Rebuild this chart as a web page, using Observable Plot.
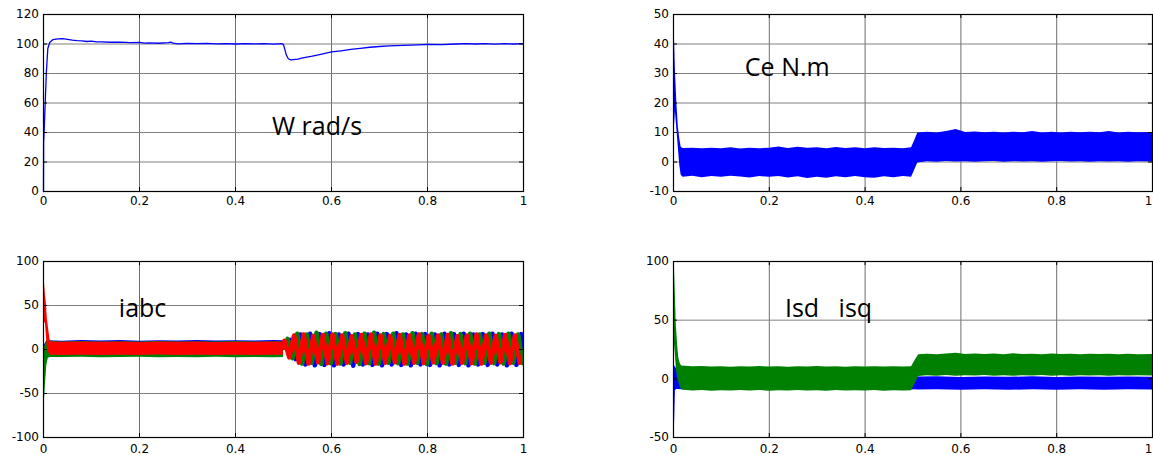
<!DOCTYPE html>
<html><head><meta charset="utf-8">
<script src="https://cdn.jsdelivr.net/npm/d3@7"></script>
<script src="https://cdn.jsdelivr.net/npm/@observablehq/plot@0.6"></script>
<style>
html,body{margin:0;padding:0;background:#fff;overflow:hidden}
#wrap{position:relative;width:1153px;height:455px;overflow:hidden}
#wrap svg{position:absolute;max-width:none;overflow:visible}
#wrap text{white-space:pre}
</style></head><body><div id="wrap"></div>
<script>
// ---------- shared ----------
const xTicks = [0, 0.2, 0.4, 0.6, 0.8, 1];

// ---------- panel 1 : W rad/s  [t, value] ----------
const wTicks = [0, 20, 40, 60, 80, 100, 120];
const wSpeed = [[0,0],[0.0003,34],[0.001,38],[0.004,64],[0.006,81],[0.009,97],[0.013,101],[0.02,103],[0.03,103.5],[0.04,103.6],[0.05,103.1],
 [0.06,102.6],[0.07,102.3],[0.08,102.1],[0.09,101.7],[0.1,101.9],[0.11,101.5],[0.12,101.4],[0.14,101.2],[0.16,101.3],[0.18,101],[0.2,101.1],
 [0.21,100.6],[0.22,100.8],[0.24,100.5],[0.26,100.9],[0.265,101.2],[0.27,100.6],[0.28,100.1],[0.3,100.4],[0.32,100.2],[0.34,100.4],[0.36,100.1],
 [0.38,100.3],[0.4,100],[0.42,100.3],[0.44,100.1],[0.46,100.2],[0.48,99.9],[0.497,100.2],[0.5,99.6],[0.503,96],[0.506,92.5],[0.51,90],[0.515,89.2],
 [0.52,89.4],[0.53,89.8],[0.54,90.6],[0.56,91.8],[0.58,93.2],[0.6,94.6],[0.62,95.4],[0.64,96.3],[0.66,97.1],[0.68,97.8],[0.7,98.3],[0.72,98.7],
 [0.75,99.1],[0.78,99.4],[0.8,99.7],[0.83,99.6],[0.86,100],[0.88,100.3],[0.9,100],[0.92,100.2],[0.94,99.9],[0.96,100.2],[0.98,100],[1,100.2]];

// ---------- panel 2 : Ce N.m  [t, low, high] ----------
const ceTicks = [-10, 0, 10, 20, 30, 40, 50];
const ceBand = [[0,0,42],[0.002,12,42],[0.004,17,31],[0.007,11,20],[0.01,5,12],[0.013,-1,8],[0.016,-4.5,5],[0.02,-5.2,4.6],[0.04,-4.8,4.7],
 [0.06,-5.3,4.5],[0.08,-4.9,4.7],[0.1,-5.2,4.5],[0.12,-4.8,4.8],[0.14,-5.1,4.4],[0.16,-5.4,4.7],[0.18,-4.9,4.5],[0.2,-5.2,4.7],[0.22,-4.9,5.1],
 [0.24,-5.4,4.6],[0.26,-5,5],[0.28,-5.6,4.7],[0.3,-5.2,4.8],[0.32,-5.5,4.5],[0.34,-5,4.9],[0.36,-5.3,4.6],[0.38,-4.9,4.8],[0.4,-5.3,4.5],
 [0.42,-5.5,4.8],[0.44,-5,4.6],[0.46,-5.3,4.7],[0.48,-4.9,4.5],[0.497,-5.2,4.8],[0.503,-3,7],[0.51,-0.3,9.8],[0.53,0.1,10.1],[0.55,-0.1,9.8],
 [0.57,0.2,10.3],[0.59,0,11],[0.61,0.1,10],[0.63,-0.1,10.2],[0.65,0.1,9.9],[0.67,0.2,10.1],[0.69,-0.1,9.8],[0.71,0.1,10.1],[0.73,0,9.9],
 [0.75,0.1,10.3],[0.77,-0.1,9.8],[0.79,0.1,10.1],[0.81,0.2,9.8],[0.83,0,10.1],[0.85,0.1,9.9],[0.87,-0.1,10.1],[0.89,0.1,9.9],[0.91,0,10.3],
 [0.93,0.1,9.8],[0.95,-0.1,10.1],[0.97,0.1,9.9],[1,0,10]];

// ---------- panel 3 : iabc ----------
const iTicks = [-100, -50, 0, 50, 100];
// bands before the load step [t, low, high]
const iaBand = [[0,0,78],[0.002,30,76],[0.004,30,62],[0.006,15,52],[0.008,2,35],[0.011,-4,22],[0.014,-6.5,10],[0.017,-6.5,8.5],[0.04,-6.8,8.2],
 [0.08,-6.4,8.5],[0.12,-6.9,8.1],[0.16,-6.5,8.4],[0.2,-6.8,8],[0.24,-6.3,8.5],[0.28,-6.8,8.1],[0.32,-6.4,8.5],[0.36,-6.7,8],[0.4,-6.4,8.3],
 [0.44,-6.8,8.1],[0.48,-6.5,8.4],[0.5,-6.6,8.2]];
const ibBand = [[0,-62,0],[0.002,-58,3],[0.004,-40,6],[0.007,-18,10],[0.01,-10,12],[0.014,-9,9.5],[0.04,-9.2,8.6],[0.08,-8.9,9],[0.12,-9.4,8.5],
 [0.16,-9,8.8],[0.2,-8.8,8.5],[0.24,-9.3,9],[0.28,-9,8.6],[0.32,-9.5,8.8],[0.36,-8.9,8.5],[0.4,-9.3,9],[0.44,-9,8.5],[0.48,-9.4,8.8],[0.5,-9,8.5]];
const icBand = [[0,-10,5],[0.003,-14,6],[0.006,-8,9],[0.01,-7,10],[0.04,-7.5,9.5],[0.08,-7.1,10.3],[0.12,-7.7,9.6],[0.16,-7.2,10.1],[0.2,-7.6,9.5],
 [0.24,-7.1,10],[0.28,-7.5,9.7],[0.32,-7.3,10.2],[0.36,-7.7,9.6],[0.4,-7.2,10],[0.44,-7.6,9.6],[0.48,-7.2,10.1],[0.5,-7.5,10]];
// after the load step: cycle start times and per-cycle peaks / troughs of each phase
const cycT = [0.5,0.52,0.54,0.56,0.58,0.6,0.62,0.64,0.66,0.68,0.7,0.72,0.74,0.76,0.78,0.8,0.82,0.84,0.86,0.88,0.9,0.92,0.94,0.96,0.98];
const phaseLag = [0.002, 0.0087, 0.0153]; // a (red), b (green), c (blue)
const iaPk = [10,16,17,15.5,16.5,17,16,15,16.5,17,16,15.5,16.5,16,17,15.5,16,16.5,15,16,17,16,15.5,16.5,16];
const iaTr = [-9,-15,-16,-14.5,-15.5,-16,-15,-14,-15.5,-16,-15,-14.5,-16,-15,-15.5,-14.5,-15,-16,-15,-15.5,-16,-15,-14.5,-15.5,-15];
const ibPk = [12,18,17,19,18,17.5,18.5,17,18,19,17.5,18,17,18.5,17.5,18,17,18.5,17.5,18,17,18,17.5,18,17];
const ibTr = [-10,-16,-15,-16.5,-15.5,-16,-15,-16.5,-15.5,-16,-15,-15.5,-16,-15,-16.5,-15.5,-16,-15,-15.5,-16,-15,-15.5,-16,-15,-15.5];
const icPk = [11,17,18,17.5,18.5,17,18,17.5,17,18,17.5,18.5,17,18,17.5,17,18,17.5,18,17,17.5,18,17,18,17.5];
const icTr = [-11,-17,-18,-17.5,-18,-17,-18.5,-17,-17.5,-18,-17,-17.5,-18,-17,-17.5,-18,-17,-17.5,-18,-17,-17.5,-17,-18,-17.5,-17];

// ---------- panel 4 : Isd isq  [t, low, high] ----------
const dqTicks = [-50, 0, 50, 100];
const isdBand = [[0,-48,10],[0.002,-42,11],[0.004,-10,10],[0.007,-9,8],[0.04,-9.6,7],[0.08,-9.2,7.5],[0.12,-9.8,7],[0.16,-9.4,7.2],[0.2,-9.7,7],
 [0.24,-9.3,7.4],[0.28,-9.9,7],[0.32,-9.5,7.3],[0.36,-9.8,7],[0.4,-9.4,7.2],[0.44,-9.9,7],[0.48,-9.5,7.3],[0.497,-9.6,7],[0.505,-9.4,3],
 [0.51,-9.6,1.5],[0.55,-9.3,1.8],[0.6,-9.7,1.2],[0.65,-9.4,1.6],[0.7,-9.8,1.3],[0.75,-9.3,1.7],[0.8,-9.7,1.2],[0.85,-9.4,1.6],[0.9,-9.7,1.3],
 [0.95,-9.3,1.5],[1,-9.6,1.4]];
const isqBand = [[0,20,100],[0.002,30,96],[0.004,20,70],[0.006,8,45],[0.009,0,27],[0.011,-3,18],[0.014,-7,13],[0.017,-9.5,11],[0.04,-10.3,10.2],
 [0.06,-9.9,10.5],[0.08,-10.5,10],[0.1,-10.1,10.4],[0.12,-10.4,9.9],[0.14,-10,10.4],[0.16,-10.4,10],[0.18,-10,10.5],[0.2,-10.5,10.1],
 [0.22,-10.2,10.4],[0.24,-10.4,9.9],[0.26,-10,10.4],[0.28,-10.4,10.1],[0.3,-10.1,10.5],[0.32,-10.5,10],[0.34,-10,10.4],[0.36,-10.4,9.9],
 [0.38,-10.1,10.4],[0.4,-10.4,10.1],[0.42,-10,10.4],[0.44,-10.5,10],[0.46,-10.2,10.3],[0.48,-10.4,10.1],[0.497,-10.1,10.4],[0.505,-4,16],
 [0.512,2,20.5],[0.53,2.7,21],[0.55,2.3,20.5],[0.57,2.8,21.1],[0.59,2.3,21.8],[0.61,2.7,20.8],[0.63,2.4,21.2],[0.65,2.8,20.7],[0.67,2.3,21.1],
 [0.69,2.6,20.6],[0.71,2.3,21.3],[0.73,2.7,20.7],[0.75,2.4,21],[0.77,2.8,20.5],[0.79,2.3,21.1],[0.81,2.7,20.7],[0.83,2.3,21],[0.85,2.6,20.6],
 [0.87,2.4,21],[0.89,2.7,20.7],[0.91,2.3,21],[0.93,2.7,20.6],[0.95,2.4,20.9],[0.97,2.7,20.5],[1,2.5,20.8]];

// ---------- colours ----------
const BLUE = "#0000ff", GREEN = "#008000", RED = "#ff0000";

// ---------- helpers ----------
const band = (data, fill) => Plot.areaY(data, {x: d => d[0], y1: d => d[1], y2: d => d[2], fill, clip: true});
function wave(pk, tr, lag) {
  const pts = [[0.5, 2]];
  cycT.forEach((c, i) => { pts.push([c + lag, pk[i]], [c + lag + 0.01, tr[i]]); });
  return pts;
}
const waveLine = (pts, stroke) => Plot.lineY(pts, {x: d => d[0], y: d => d[1], stroke, strokeWidth: 4.5, clip: true});

function panel(cfg) {
  const innerW = cfg.width - cfg.ml - cfg.mr;
  const innerH = cfg.height - cfg.mt - cfg.mb;
  const fmt = d => String(d);
  const tk = 4;
  const svg = Plot.plot({
    width: cfg.width, height: cfg.height,
    marginTop: cfg.mt, marginRight: cfg.mr, marginBottom: cfg.mb, marginLeft: cfg.ml,
    x: {domain: [0, 1], label: null},
    y: {domain: cfg.yDomain, label: null},
    style: {background: "white", fontFamily: "'DejaVu Sans', sans-serif", fontSize: "12px", color: "black", overflow: "visible"},
    marks: [
      Plot.gridX(xTicks, {stroke: "#6e6e6e", strokeOpacity: 1}),
      Plot.gridY(cfg.yTicks, {stroke: "#808080", strokeOpacity: 1}),
      ...cfg.marks,
      Plot.tickX(xTicks, {x: d => d, stroke: "black", insetTop: innerH - tk}),
      Plot.tickX(xTicks, {x: d => d, stroke: "black", insetBottom: innerH - tk}),
      Plot.tickY(cfg.yTicks, {y: d => d, stroke: "black", insetRight: innerW - tk}),
      Plot.tickY(cfg.yTicks, {y: d => d, stroke: "black", insetLeft: innerW - tk}),
      Plot.frame({stroke: "black", strokeWidth: 1.2}),
      Plot.axisX(cfg.edge ? xTicks.slice(0, -1) : xTicks, {tickSize: 0, tickPadding: cfg.xPad, tickFormat: fmt, label: null, fontSize: 12}),
      ...(cfg.edge ? [Plot.axisX(xTicks.slice(-1), {tickSize: 0, tickPadding: cfg.xPad, tickFormat: fmt, label: null, fontSize: 12, dx: -4})] : []),
      Plot.axisY(cfg.yTicks, {tickSize: 0, tickPadding: 4.5, tickFormat: fmt, label: null, fontSize: 12}),
      Plot.text([cfg.title], {x: cfg.tx, y: cfg.ty, text: d => d, textAnchor: "start", fontSize: 25,
        fontFamily: "'Open Sans', sans-serif", fill: "black"})
    ]
  });
  svg.style.left = cfg.left + "px";
  svg.style.top = cfg.top + "px";
  document.getElementById("wrap").append(svg);
}

panel({left: 0, top: 0, width: 576, height: 227, ml: 43, mr: 53, mt: 14, mb: 36, xPad: 5,
  yDomain: [0, 120], yTicks: wTicks, title: "W rad/s", tx: 0.476, ty: 44,
  marks: [Plot.lineY(wSpeed, {x: d => d[0], y: d => d[1], stroke: BLUE, strokeWidth: 1.3})]});

panel({left: 576, top: 0, width: 577, height: 227, ml: 97, mr: 1, mt: 14, mb: 36, xPad: 5, edge: true,
  yDomain: [-10, 50], yTicks: ceTicks, title: "Ce N.m", tx: 0.149, ty: 31.9,
  marks: [band(ceBand, BLUE)]});

panel({left: 0, top: 227, width: 576, height: 228, ml: 43, mr: 53, mt: 34, mb: 18, xPad: 6.5,
  yDomain: [-100, 100], yTicks: iTicks, title: "iabc", tx: 0.157, ty: 45.5,
  marks: [band(icBand, BLUE), band(ibBand, GREEN), band(iaBand, RED),
    waveLine(wave(icPk, icTr, phaseLag[2]), BLUE),
    waveLine(wave(ibPk, ibTr, phaseLag[1]), GREEN),
    waveLine(wave(iaPk, iaTr, phaseLag[0]), RED)]});

panel({left: 576, top: 227, width: 577, height: 228, ml: 97, mr: 1, mt: 34, mb: 18, xPad: 6.5, edge: true,
  yDomain: [-50, 100], yTicks: dqTicks, title: "Isd   isq", tx: 0.2326, ty: 59.5,
  marks: [band(isdBand, BLUE), band(isqBand, GREEN)]});
</script></body></html>
